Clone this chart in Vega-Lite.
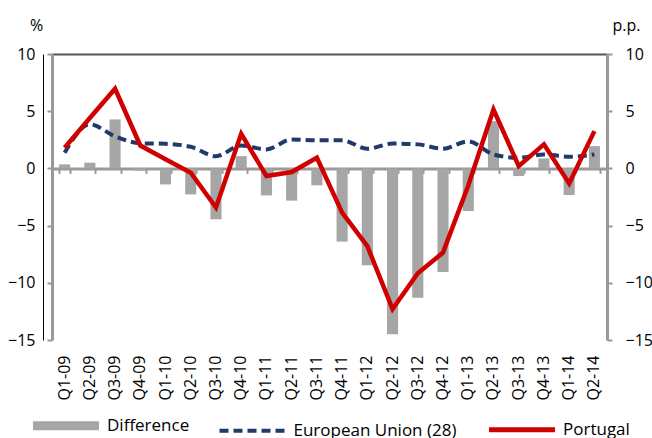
{
  "$schema": "https://vega.github.io/schema/vega-lite/v6.json",
  "width": 555,
  "height": 286,
  "autosize": {"type": "none"},
  "padding": {"left": 52, "top": 54, "right": 45, "bottom": 98},
  "background": "white",
  "config": {
    "view": {"stroke": null},
    "font": "Open Sans",
    "axis": {"labelFont": "Open Sans", "titleFont": "Open Sans", "labelColor": "#000000", "titleColor": "#000000", "grid": false}
  },
  "datasets": {
    "diff": [
      {"q": "Q1-09", "series": "Difference", "value": 0.35},
      {"q": "Q2-09", "series": "Difference", "value": 0.5},
      {"q": "Q3-09", "series": "Difference", "value": 4.28},
      {"q": "Q4-09", "series": "Difference", "value": -0.2},
      {"q": "Q1-10", "series": "Difference", "value": -1.4},
      {"q": "Q2-10", "series": "Difference", "value": -2.27},
      {"q": "Q3-10", "series": "Difference", "value": -4.45},
      {"q": "Q4-10", "series": "Difference", "value": 1.07},
      {"q": "Q1-11", "series": "Difference", "value": -2.36},
      {"q": "Q2-11", "series": "Difference", "value": -2.82},
      {"q": "Q3-11", "series": "Difference", "value": -1.48},
      {"q": "Q4-11", "series": "Difference", "value": -6.4},
      {"q": "Q1-12", "series": "Difference", "value": -8.47},
      {"q": "Q2-12", "series": "Difference", "value": -14.5},
      {"q": "Q3-12", "series": "Difference", "value": -11.3},
      {"q": "Q4-12", "series": "Difference", "value": -9.06},
      {"q": "Q1-13", "series": "Difference", "value": -3.73},
      {"q": "Q2-13", "series": "Difference", "value": 4.13},
      {"q": "Q3-13", "series": "Difference", "value": -0.67},
      {"q": "Q4-13", "series": "Difference", "value": 0.87},
      {"q": "Q1-14", "series": "Difference", "value": -2.33},
      {"q": "Q2-14", "series": "Difference", "value": 1.95}
    ],
    "eu": [
      {"q": "Q1-09", "series": "European Union (28)", "value": 1.37},
      {"q": "Q2-09", "series": "European Union (28)", "value": 3.85},
      {"q": "Q3-09", "series": "European Union (28)", "value": 2.8},
      {"q": "Q4-09", "series": "European Union (28)", "value": 2.2},
      {"q": "Q1-10", "series": "European Union (28)", "value": 2.15},
      {"q": "Q2-10", "series": "European Union (28)", "value": 1.89},
      {"q": "Q3-10", "series": "European Union (28)", "value": 1.06},
      {"q": "Q4-10", "series": "European Union (28)", "value": 2.0},
      {"q": "Q1-11", "series": "European Union (28)", "value": 1.66},
      {"q": "Q2-11", "series": "European Union (28)", "value": 2.53},
      {"q": "Q3-11", "series": "European Union (28)", "value": 2.45},
      {"q": "Q4-11", "series": "European Union (28)", "value": 2.45},
      {"q": "Q1-12", "series": "European Union (28)", "value": 1.72},
      {"q": "Q2-12", "series": "European Union (28)", "value": 2.17},
      {"q": "Q3-12", "series": "European Union (28)", "value": 2.1},
      {"q": "Q4-12", "series": "European Union (28)", "value": 1.72},
      {"q": "Q1-13", "series": "European Union (28)", "value": 2.36},
      {"q": "Q2-13", "series": "European Union (28)", "value": 1.22},
      {"q": "Q3-13", "series": "European Union (28)", "value": 0.93},
      {"q": "Q4-13", "series": "European Union (28)", "value": 1.22},
      {"q": "Q1-14", "series": "European Union (28)", "value": 1.02},
      {"q": "Q2-14", "series": "European Union (28)", "value": 1.22}
    ],
    "pt": [
      {"q": "Q1-09", "series": "Portugal", "value": 1.81},
      {"q": "Q2-09", "series": "Portugal", "value": 4.4},
      {"q": "Q3-09", "series": "Portugal", "value": 6.96},
      {"q": "Q4-09", "series": "Portugal", "value": 2.0},
      {"q": "Q1-10", "series": "Portugal", "value": 0.8},
      {"q": "Q2-10", "series": "Portugal", "value": -0.38},
      {"q": "Q3-10", "series": "Portugal", "value": -3.42},
      {"q": "Q4-10", "series": "Portugal", "value": 3.03},
      {"q": "Q1-11", "series": "Portugal", "value": -0.67},
      {"q": "Q2-11", "series": "Portugal", "value": -0.32},
      {"q": "Q3-11", "series": "Portugal", "value": 0.93},
      {"q": "Q4-11", "series": "Portugal", "value": -3.87},
      {"q": "Q1-12", "series": "Portugal", "value": -6.79},
      {"q": "Q2-12", "series": "Portugal", "value": -12.3},
      {"q": "Q3-12", "series": "Portugal", "value": -9.17},
      {"q": "Q4-12", "series": "Portugal", "value": -7.36},
      {"q": "Q1-13", "series": "Portugal", "value": -1.5},
      {"q": "Q2-13", "series": "Portugal", "value": 5.15},
      {"q": "Q3-13", "series": "Portugal", "value": 0.2},
      {"q": "Q4-13", "series": "Portugal", "value": 2.1},
      {"q": "Q1-14", "series": "Portugal", "value": -1.31},
      {"q": "Q2-14", "series": "Portugal", "value": 3.26}
    ]
  },
  "layer": [
    {
      "data": {"name": "diff"},
      "mark": {"type": "bar"},
      "encoding": {
        "x": {
          "field": "q", "type": "ordinal",
          "scale": {"domain": ["Q1-09","Q2-09","Q3-09","Q4-09","Q1-10","Q2-10","Q3-10","Q4-10","Q1-11","Q2-11","Q3-11","Q4-11","Q1-12","Q2-12","Q3-12","Q4-12","Q1-13","Q2-13","Q3-13","Q4-13","Q1-14","Q2-14"], "paddingInner": 0.56, "paddingOuter": 0.28},
          "axis": {"orient": "bottom", "domain": false, "ticks": false, "labelAngle": -90, "labelPadding": 15, "labelFontSize": 16, "title": null}
        },
        "y": {
          "field": "value", "type": "quantitative",
          "scale": {"domain": [-15, 10], "nice": false, "zero": false},
          "axis": {"orient": "left", "values": [-15, -10, -5, 0, 5, 10], "domainColor": "#999999", "domainWidth": 3, "tickColor": "#999999", "tickWidth": 2, "tickSize": 5, "labelPadding": 12, "labelFontSize": 16, "title": "%", "titleAngle": 0, "titleX": -16, "titleY": -24, "titleAlign": "center", "titleBaseline": "alphabetic", "titleFontWeight": "normal", "titleFontSize": 16}
        },
        "color": {
          "field": "series", "type": "nominal",
          "scale": {"domain": ["Difference", "European Union (28)", "Portugal"], "range": ["#A6A6A6", "#1F3A6B", "#D00000"]},
          "legend": {
            "orient": "none", "legendX": 5.5, "legendY": 363, "direction": "horizontal", "title": null,
            "symbolType": "stroke", "symbolSize": 4356, "symbolStrokeWidth": 5,
            "labelFontSize": 17, "labelFont": "Open Sans", "labelColor": "#000000", "labelOffset": 32.5,
            "columnPadding": 21.5, "padding": 0, "labelLimit": 300,
            "encode": {"symbols": {"update": {
              "strokeWidth": {"signal": "datum.value === 'Difference' ? 9 : datum.value === 'Portugal' ? 5 : 4"},
              "strokeDash": {"signal": "datum.value === 'European Union (28)' ? [9,5] : [1,0]"},
              "stroke": {"scale": "color", "field": "value"}
            }}}
          }
        }
      }
    },
    {
      "data": {"name": "eu"},
      "mark": {"type": "line", "strokeWidth": 4, "strokeDash": [9, 5], "interpolate": "monotone"},
      "encoding": {
        "x": {"field": "q", "type": "ordinal",
          "axis": {"orient": "bottom", "offset": -171.6, "labels": false, "domainColor": "#999999", "domainWidth": 3, "tickColor": "#999999", "tickWidth": 2, "tickSize": 5, "tickBand": "extent", "title": null}},
        "y": {"field": "value", "type": "quantitative",
          "axis": {"orient": "right", "values": [-15, -10, -5, 0, 5, 10], "domainColor": "#999999", "domainWidth": 3, "tickColor": "#999999", "tickWidth": 2, "tickSize": 5, "labelPadding": 13, "labelFontSize": 16, "title": "p.p.", "titleAngle": 0, "titleX": 5, "titleY": -24, "titleAlign": "left", "titleBaseline": "alphabetic", "titleFontWeight": "normal", "titleFontSize": 16}},
        "color": {"field": "series", "type": "nominal"}
      }
    },
    {
      "data": {"name": "pt"},
      "mark": {"type": "line", "strokeWidth": 4.5},
      "encoding": {
        "x": {"field": "q", "type": "ordinal", "axis": null},
        "y": {"field": "value", "type": "quantitative",
          "axis": {"orient": "left", "offset": 9, "labels": false, "ticks": false, "domainColor": "#000000", "domainWidth": 1, "title": null, "values": [10], "grid": true, "gridColor": "#555555", "gridWidth": 2, "gridOpacity": 1}},
        "color": {"field": "series", "type": "nominal"}
      }
    }
  ],
  "resolve": {"axis": {"x": "independent", "y": "independent"}}
}
